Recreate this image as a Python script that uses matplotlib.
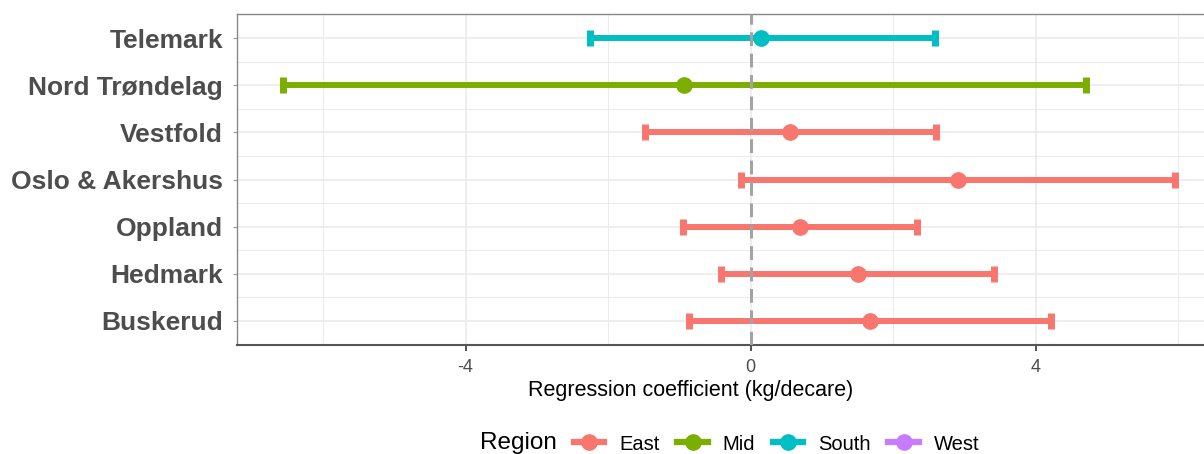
import matplotlib
matplotlib.use("Agg")
import matplotlib.pyplot as plt
from matplotlib.lines import Line2D
from matplotlib.ticker import MultipleLocator

# bottom to top, as drawn on the y axis
counties = ["Buskerud", "Hedmark", "Oppland", "Oslo & Akershus",
            "Vestfold", "Nord Trøndelag", "Telemark"]
regions = ["East", "East", "East", "East", "East", "Mid", "South"]
estimate = [1.67, 1.50, 0.69, 2.91, 0.55, -0.94, 0.15]
lower = [-0.87, -0.41, -0.95, -0.13, -1.49, -6.57, -2.26]
upper = [4.21, 3.42, 2.34, 5.96, 2.60, 4.70, 2.58]

region_names = ["East", "Mid", "South", "West"]
region_colors = {"East": "#F8766D", "Mid": "#7CAE00",
                 "South": "#00BFC4", "West": "#C77CFF"}

plt.rcParams["font.family"] = ["Liberation Sans", "DejaVu Sans"]

fig = plt.figure(figsize=(12.04, 4.54), dpi=100)
ax = fig.add_axes([0.1968, 0.240, 0.812, 0.729])

for i, name in enumerate(counties):
    c = region_colors[regions[i]]
    ax.errorbar([estimate[i]], [i + 1],
                xerr=[[estimate[i] - lower[i]], [upper[i] - estimate[i]]],
                fmt="o", color=c, ecolor=c, markersize=11, elinewidth=4.3,
                capsize=5.5, capthick=5, zorder=3)

ax.axvline(0, color="#A3A3A3", linewidth=2.2, dashes=(4.5, 2.5), zorder=4)

ax.set_xlim(-7.21, 6.51)
ax.set_ylim(0.49, 7.51)
ax.set_xticks([-4, 0, 4])
ax.set_xticklabels(["-4", "0", "4"])
ax.xaxis.set_minor_locator(MultipleLocator(2))
ax.set_yticks(range(1, len(counties) + 1))
ax.set_yticklabels(counties)
ax.set_yticks([i + 0.5 for i in range(1, len(counties))], minor=True)

ax.grid(which="major", color="#EBEBEB", linewidth=1.2, zorder=0)
ax.grid(which="minor", color="#EBEBEB", linewidth=0.7, zorder=0)
ax.set_axisbelow(True)

ax.tick_params(axis="y", which="major", labelsize=19, labelcolor="#4D4D4D",
               length=3, color="#999999", pad=7)
for lbl in ax.get_yticklabels():
    lbl.set_fontweight("bold")
ax.tick_params(axis="x", which="major", labelsize=13, labelcolor="#4D4D4D",
               length=4, width=1.2, color="#333333", pad=6)
ax.tick_params(which="minor", length=0)

for s in ["top", "left", "right"]:
    ax.spines[s].set_color("#888888")
    ax.spines[s].set_linewidth(1.0)
ax.spines["bottom"].set_color("#555555")
ax.spines["bottom"].set_linewidth(1.5)

ax.set_xlabel("Regression coefficient (kg/decare)", fontsize=15.5,
              color="black")
ax.xaxis.set_label_coords(0.464, -0.107)

# legend along the bottom
fig.text(480 / 1204, 11 / 454, "Region", fontsize=17.5, ha="left", va="center")
handles = [Line2D([0], [0], color=region_colors[r], marker="o",
                  markersize=11, linewidth=4.5) for r in region_names]
fig.legend(handles, region_names, loc="center left",
           bbox_to_anchor=(574 / 1204, 10 / 454), ncol=4, frameon=False,
           fontsize=14.5, handlelength=1.5, handletextpad=0.75,
           columnspacing=0.88, borderpad=0, borderaxespad=0)

fig.savefig("out.png", dpi=100)
